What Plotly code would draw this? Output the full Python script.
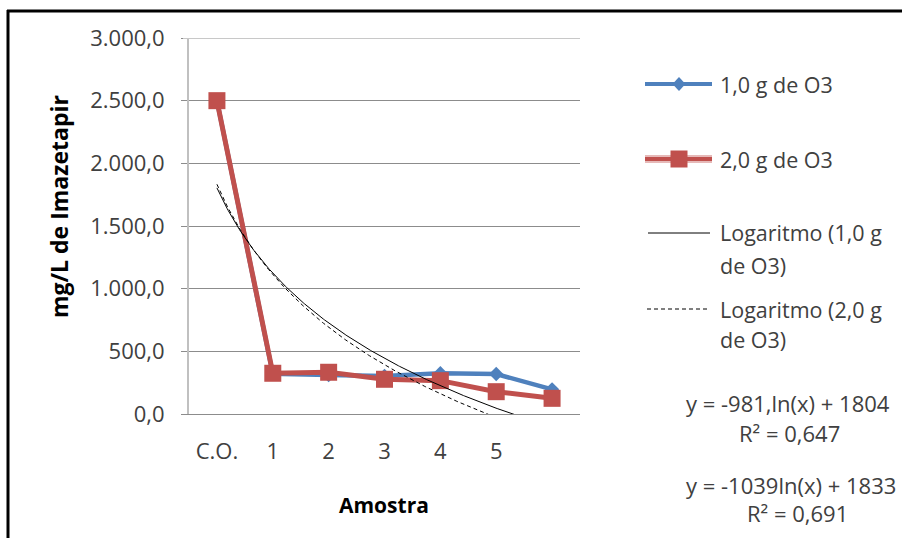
import numpy as np
import plotly.graph_objects as go

# Sample positions on the category axis (the last one has no label)
categories = ["C.O.", "1", "2", "3", "4", "5", ""]
x_pos = [1, 2, 3, 4, 5, 6, 7]

# mg/L de Imazetapir for each ozone dose
serie_1g = [2500, 320, 311, 303, 325, 319, 197]
serie_2g = [2500, 325, 333, 277, 266, 178, 125]

# Logarithmic trendline coefficients y = a*ln(x) + b
trend_1g = {"a": -981, "b": 1804, "r2": "0,647"}
trend_2g = {"a": -1039, "b": 1833, "r2": "0,691"}

y_ticks = [0, 500, 1000, 1500, 2000, 2500, 3000]
y_ticktext = ["0,0", "500,0", "1.000,0", "1.500,0", "2.000,0", "2.500,0", "3.000,0"]

BLUE = "#4F81BD"
RED = "#C0504D"
TXT = "#404040"
FONT = "Open Sans"

W, H = 902, 538
L, R, T, B = 189, 580, 38, 414  # plot area in pixels


def px(xp):
    return (xp - L) / (R - L)


def py(yp):
    return (B - yp) / (B - T)


fig = go.Figure()

fig.add_trace(go.Scatter(
    x=x_pos, y=serie_1g, mode="lines+markers", name="1,0 g de O3",
    line=dict(color=BLUE, width=4.5),
    marker=dict(symbol="diamond", size=11, color=BLUE),
))
fig.add_trace(go.Scatter(
    x=x_pos, y=serie_2g, mode="lines+markers", name="2,0 g de O3",
    line=dict(color=RED, width=5),
    marker=dict(symbol="square", size=17, color=RED),
))

xt = np.linspace(1, 7, 300)
fig.add_trace(go.Scatter(
    x=xt, y=trend_1g["a"] * np.log(xt) + trend_1g["b"], mode="lines",
    name="Logaritmo (1,0 g de O3)", line=dict(color="black", width=1),
))
fig.add_trace(go.Scatter(
    x=xt, y=trend_2g["a"] * np.log(xt) + trend_2g["b"], mode="lines",
    name="Logaritmo (2,0 g de O3)", line=dict(color="black", width=1, dash="4px,3px"),
))

shapes = []
annotations = []

# outer frame (top and left edges)
shapes.append(dict(type="line", xref="paper", yref="paper",
                   x0=px(7), x1=px(W), y0=py(11), y1=py(11),
                   line=dict(color="black", width=3)))
shapes.append(dict(type="line", xref="paper", yref="paper",
                   x0=px(8), x1=px(8), y0=py(10), y1=py(H),
                   line=dict(color="black", width=3)))

# lighter top gridline
shapes.append(dict(type="line", xref="paper", yref="y",
                   x0=px(183), x1=1, y0=3000, y1=3000,
                   line=dict(color="#C8C8C8", width=2)))

# legend
lx0, lx1, lxm, ltx = 645, 712, 679, 718
shapes.append(dict(type="line", xref="paper", yref="paper",
                   x0=px(lx0), x1=px(lx1), y0=py(84), y1=py(84),
                   line=dict(color=BLUE, width=4)))
shapes.append(dict(type="path", xref="paper", yref="paper",
                   path="M {a},{b} L {c},{d} L {a},{e} L {f},{d} Z".format(
                       a=px(lxm), b=py(77), c=px(lxm + 6.5), d=py(84), e=py(91), f=px(lxm - 6.5)),
                   fillcolor=BLUE, line=dict(width=0)))
shapes.append(dict(type="line", xref="paper", yref="paper",
                   x0=px(lx0), x1=px(lx1), y0=py(159), y1=py(159),
                   line=dict(color="#E6B9B8", width=8)))
shapes.append(dict(type="line", xref="paper", yref="paper",
                   x0=px(lx0), x1=px(lx1), y0=py(159), y1=py(159),
                   line=dict(color=RED, width=4)))
shapes.append(dict(type="rect", xref="paper", yref="paper",
                   x0=px(lxm - 8.5), x1=px(lxm + 8.5), y0=py(150.5), y1=py(167.5),
                   fillcolor=RED, line=dict(width=0)))
shapes.append(dict(type="line", xref="paper", yref="paper",
                   x0=px(648), x1=px(710), y0=py(233), y1=py(233),
                   line=dict(color="black", width=1)))
shapes.append(dict(type="line", xref="paper", yref="paper",
                   x0=px(647), x1=px(710), y0=py(309), y1=py(309),
                   line=dict(color="black", width=1, dash="4px,3px")))

legend_text = [
    ("1,0 g de O3", 84),
    ("2,0 g de O3", 159),
    ("Logaritmo (1,0 g", 233),
    ("de O3)", 265),
    ("Logaritmo (2,0 g", 309),
    ("de O3)", 339),
]
for txt, yy in legend_text:
    annotations.append(dict(text=txt, xref="paper", yref="paper", x=px(ltx), y=py(yy),
                            xanchor="left", yanchor="middle", showarrow=False,
                            font=dict(family=FONT, size=21.5, color=TXT)))

# trendline equations
eq_lines = [
    ("y = -981,ln(x) + 1804", 788, 403),
    ("R² = " + trend_1g["r2"], 789, 433),
    ("y = -1039ln(x) + 1833", 791, 485),
    ("R² = " + trend_2g["r2"], 797, 513),
]
for txt, xx, yy in eq_lines:
    annotations.append(dict(text=txt, xref="paper", yref="paper", x=px(xx), y=py(yy),
                            xanchor="center", yanchor="middle", showarrow=False,
                            font=dict(family=FONT, size=22, color=TXT)))

# axis titles
annotations.append(dict(text="<b>Amostra</b>", xref="paper", yref="paper",
                        x=px(384), y=py(505), xanchor="center", yanchor="middle",
                        showarrow=False, font=dict(family=FONT, size=21, color="black")))
annotations.append(dict(text="<b>mg/L de Imazetapir</b>", xref="paper", yref="paper",
                        x=px(59), y=py(207), xanchor="center", yanchor="middle",
                        textangle=-90, showarrow=False,
                        font=dict(family=FONT, size=23, color="black")))

fig.update_layout(
    width=W, height=H,
    margin=dict(l=L, r=W - R, t=T, b=H - B),
    paper_bgcolor="white", plot_bgcolor="white",
    showlegend=False,
    shapes=shapes, annotations=annotations,
    xaxis=dict(
        range=[0.5, 7.5], tickmode="array", tickvals=x_pos, ticktext=categories,
        showgrid=False, zeroline=False, showline=True, linecolor="#8C8C8C", linewidth=1,
        ticks="", ticklabelstandoff=18,
        tickfont=dict(family=FONT, size=22, color=TXT),
    ),
    yaxis=dict(
        range=[0, 3000], tickmode="array", tickvals=y_ticks, ticktext=y_ticktext,
        showgrid=True, gridcolor="#8C8C8C", gridwidth=1, zeroline=False,
        showline=True, linecolor="#C0C0C0", linewidth=2,
        ticks="outside", ticklen=6, tickcolor="#8C8C8C", tickwidth=1,
        ticklabelstandoff=12,
        tickfont=dict(family=FONT, size=22, color=TXT),
    ),
)

fig.write_html("out.html")
